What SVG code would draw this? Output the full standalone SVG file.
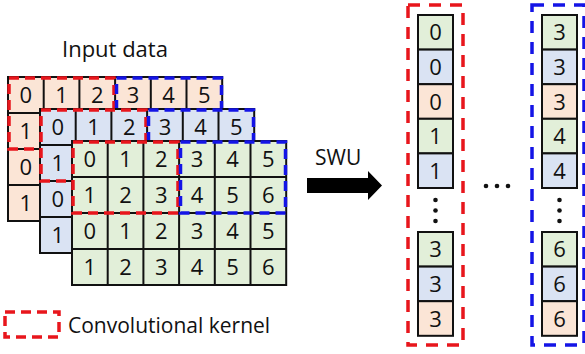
<svg xmlns="http://www.w3.org/2000/svg" width="585" height="354" viewBox="0 0 585 354">
<style>
text{font-family:"Open Sans","Liberation Sans",sans-serif;fill:#111}
.d{font-size:22px;text-anchor:middle}
.g{fill:#e2efd9}.b{fill:#dae3f3}.o{fill:#fbe5d6}
.cell{stroke:#111;stroke-width:2}
.grid{fill:none;stroke:#111;stroke-width:2}
.kr{fill:none;stroke:#e8161c;stroke-width:3.5;stroke-dasharray:10 6}
.kb{fill:none;stroke:#1414e6;stroke-width:3.5;stroke-dasharray:10 6}
.col{stroke-dasharray:12 9}
.dot{fill:#111}
</style>
<rect width="585" height="354" fill="#fff"/>
<text x="62" y="57" font-size="22">Input data</text>

<g id="layer-orange">
<rect class="cell o" x="8" y="77" width="214.2" height="144"/>
<path class="grid" d="M43.7 77V221M79.4 77V221M115.1 77V221M150.8 77V221M186.5 77V221M8 113H222.2M8 149H222.2M8 185H222.2"/>
<text class="d" x="25.85" y="103">0</text><text class="d" x="61.55" y="103">1</text><text class="d" x="97.25" y="103">2</text><text class="d" x="132.95" y="103">3</text><text class="d" x="168.65" y="103">4</text><text class="d" x="204.35" y="103">5</text>
<text class="d" x="25.85" y="139">1</text><text class="d" x="25.85" y="175">0</text><text class="d" x="25.85" y="211">1</text>
<rect class="kr" x="9" y="78" width="105" height="71"/>
<rect class="kb" x="116.5" y="78" width="105" height="71"/>
</g>

<g id="layer-blue">
<rect class="cell b" x="40" y="109" width="214.2" height="144"/>
<path class="grid" d="M75.7 109V253M111.4 109V253M147.1 109V253M182.8 109V253M218.5 109V253M40 145H254.2M40 181H254.2M40 217H254.2"/>
<text class="d" x="57.85" y="135">0</text><text class="d" x="93.55" y="135">1</text><text class="d" x="129.25" y="135">2</text><text class="d" x="164.95" y="135">3</text><text class="d" x="200.65" y="135">4</text><text class="d" x="236.35" y="135">5</text>
<text class="d" x="57.85" y="171">1</text><text class="d" x="57.85" y="207">0</text><text class="d" x="57.85" y="243">1</text>
<rect class="kr" x="41" y="110" width="105" height="71"/>
<rect class="kb" x="148.5" y="110" width="105" height="71"/>
</g>

<g id="layer-green">
<rect class="cell g" x="72" y="141" width="214.2" height="144"/>
<path class="grid" d="M107.7 141V285M143.4 141V285M179.1 141V285M214.8 141V285M250.5 141V285M72 177H286.2M72 213H286.2M72 249H286.2"/>
<text class="d" x="89.85" y="167">0</text><text class="d" x="125.55" y="167">1</text><text class="d" x="161.25" y="167">2</text><text class="d" x="196.95" y="167">3</text><text class="d" x="232.65" y="167">4</text><text class="d" x="268.35" y="167">5</text>
<text class="d" x="89.85" y="203">1</text><text class="d" x="125.55" y="203">2</text><text class="d" x="161.25" y="203">3</text><text class="d" x="196.95" y="203">4</text><text class="d" x="232.65" y="203">5</text><text class="d" x="268.35" y="203">6</text>
<text class="d" x="89.85" y="239">0</text><text class="d" x="125.55" y="239">1</text><text class="d" x="161.25" y="239">2</text><text class="d" x="196.95" y="239">3</text><text class="d" x="232.65" y="239">4</text><text class="d" x="268.35" y="239">5</text>
<text class="d" x="89.85" y="275">1</text><text class="d" x="125.55" y="275">2</text><text class="d" x="161.25" y="275">3</text><text class="d" x="196.95" y="275">4</text><text class="d" x="232.65" y="275">5</text><text class="d" x="268.35" y="275">6</text>
<rect class="kr" x="73" y="142" width="105" height="71"/>
<rect class="kb" x="180.5" y="142" width="105" height="71"/>
</g>

<g id="connectors">
<polygon points="307,178 368,178 368,171 382,185.5 368,200 368,193 307,193" fill="#000"/>
</g>
<text x="315" y="165" font-size="21">SWU</text>

<g id="column-red">
<rect class="kr col" x="408" y="5" width="55" height="340"/>
<rect class="cell g" x="418" y="15" width="35" height="34.6"/><text class="d" x="435.5" y="40.3">0</text>
<rect class="cell b" x="418" y="49.6" width="35" height="34.6"/><text class="d" x="435.5" y="74.9">0</text>
<rect class="cell o" x="418" y="84.2" width="35" height="34.6"/><text class="d" x="435.5" y="109.5">0</text>
<rect class="cell g" x="418" y="118.8" width="35" height="34.6"/><text class="d" x="435.5" y="144.1">1</text>
<rect class="cell b" x="418" y="153.4" width="35" height="34.6"/><text class="d" x="435.5" y="178.7">1</text>
<circle class="dot" cx="435.5" cy="200" r="2.3"/><circle class="dot" cx="435.5" cy="210.5" r="2.3"/><circle class="dot" cx="435.5" cy="221" r="2.3"/>
<rect class="cell g" x="418" y="232" width="35" height="34.6"/><text class="d" x="435.5" y="257.3">3</text>
<rect class="cell b" x="418" y="266.6" width="35" height="34.6"/><text class="d" x="435.5" y="291.9">3</text>
<rect class="cell o" x="418" y="301.2" width="35" height="34.6"/><text class="d" x="435.5" y="326.5">3</text>
</g>

<g id="ellipsis">
<circle class="dot" cx="486" cy="186" r="2.3"/><circle class="dot" cx="497" cy="186" r="2.3"/><circle class="dot" cx="508" cy="186" r="2.3"/>
</g>

<g id="column-blue">
<rect class="kb col" x="532" y="5" width="52" height="340"/>
<rect class="cell g" x="542" y="15" width="35" height="34.6"/><text class="d" x="559.5" y="40.3">3</text>
<rect class="cell b" x="542" y="49.6" width="35" height="34.6"/><text class="d" x="559.5" y="74.9">3</text>
<rect class="cell o" x="542" y="84.2" width="35" height="34.6"/><text class="d" x="559.5" y="109.5">3</text>
<rect class="cell g" x="542" y="118.8" width="35" height="34.6"/><text class="d" x="559.5" y="144.1">4</text>
<rect class="cell b" x="542" y="153.4" width="35" height="34.6"/><text class="d" x="559.5" y="178.7">4</text>
<circle class="dot" cx="559.5" cy="200" r="2.3"/><circle class="dot" cx="559.5" cy="210.5" r="2.3"/><circle class="dot" cx="559.5" cy="221" r="2.3"/>
<rect class="cell g" x="542" y="232" width="35" height="34.6"/><text class="d" x="559.5" y="257.3">6</text>
<rect class="cell b" x="542" y="266.6" width="35" height="34.6"/><text class="d" x="559.5" y="291.9">6</text>
<rect class="cell o" x="542" y="301.2" width="35" height="34.6"/><text class="d" x="559.5" y="326.5">6</text>
</g>

<g id="legend">
<rect class="kr" x="5" y="312" width="54" height="25"/>
<text x="68" y="333" font-size="21">Convolutional kernel</text>
</g>
</svg>
